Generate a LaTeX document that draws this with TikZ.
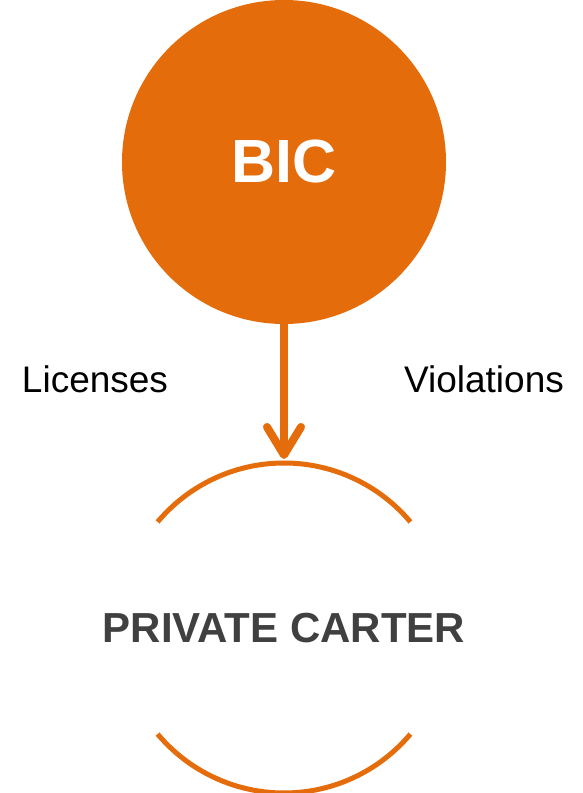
\documentclass[tikz,border=0pt]{standalone}
\usepackage{fontspec}
\setmainfont{Liberation Sans}
\usetikzlibrary{arrows.meta}
\definecolor{bicorange}{HTML}{E46C0A}
\definecolor{cartergray}{HTML}{404040}
\tikzset{
    agency/.style={
        circle, fill=bicorange, text=white, inner sep=0pt,
        minimum size=324pt,
        font=\fontsize{61}{61}\selectfont\bfseries
    },
    carter/.style={
        inner sep=0pt, text=cartergray,
        font=\fontsize{42}{42}\selectfont\bfseries
    },
    flow/.style={
        draw=bicorange, line width=8pt, shorten >=4pt,
        -{Straight Barb[round, length=28pt, width=34pt]}
    },
    rim/.style={draw=bicorange, line width=5pt},
    side/.style={anchor=base, font=\fontsize{37}{37}\selectfont}
}
\newcommand{\ringr}{165pt}

\begin{document}
\begin{tikzpicture}[x=1pt, y=1pt]
    \useasboundingbox (0,0) rectangle (583,793);

    % Regulator on top
    \node[agency] (bic) at (284,631) {BIC};

    % Regulated party below, open ring
    \node[carter] (carter) at (284,165) {PRIVATE CARTER};
    \coordinate (ringtop) at ([yshift=\ringr]carter.center);
    \draw[rim] ([shift={(40:\ringr)}]carter.center) arc[start angle=40, end angle=140, radius=\ringr];
    \draw[rim] ([shift={(220:\ringr)}]carter.center) arc[start angle=220, end angle=320, radius=\ringr];

    % Link between them
    \draw[flow] (bic.south) -- (ringtop);
    \node[side] (lic) at (95,400) {Licenses};
    \node[side] (vio) at (484,400) {Violations};
\end{tikzpicture}
\end{document}
